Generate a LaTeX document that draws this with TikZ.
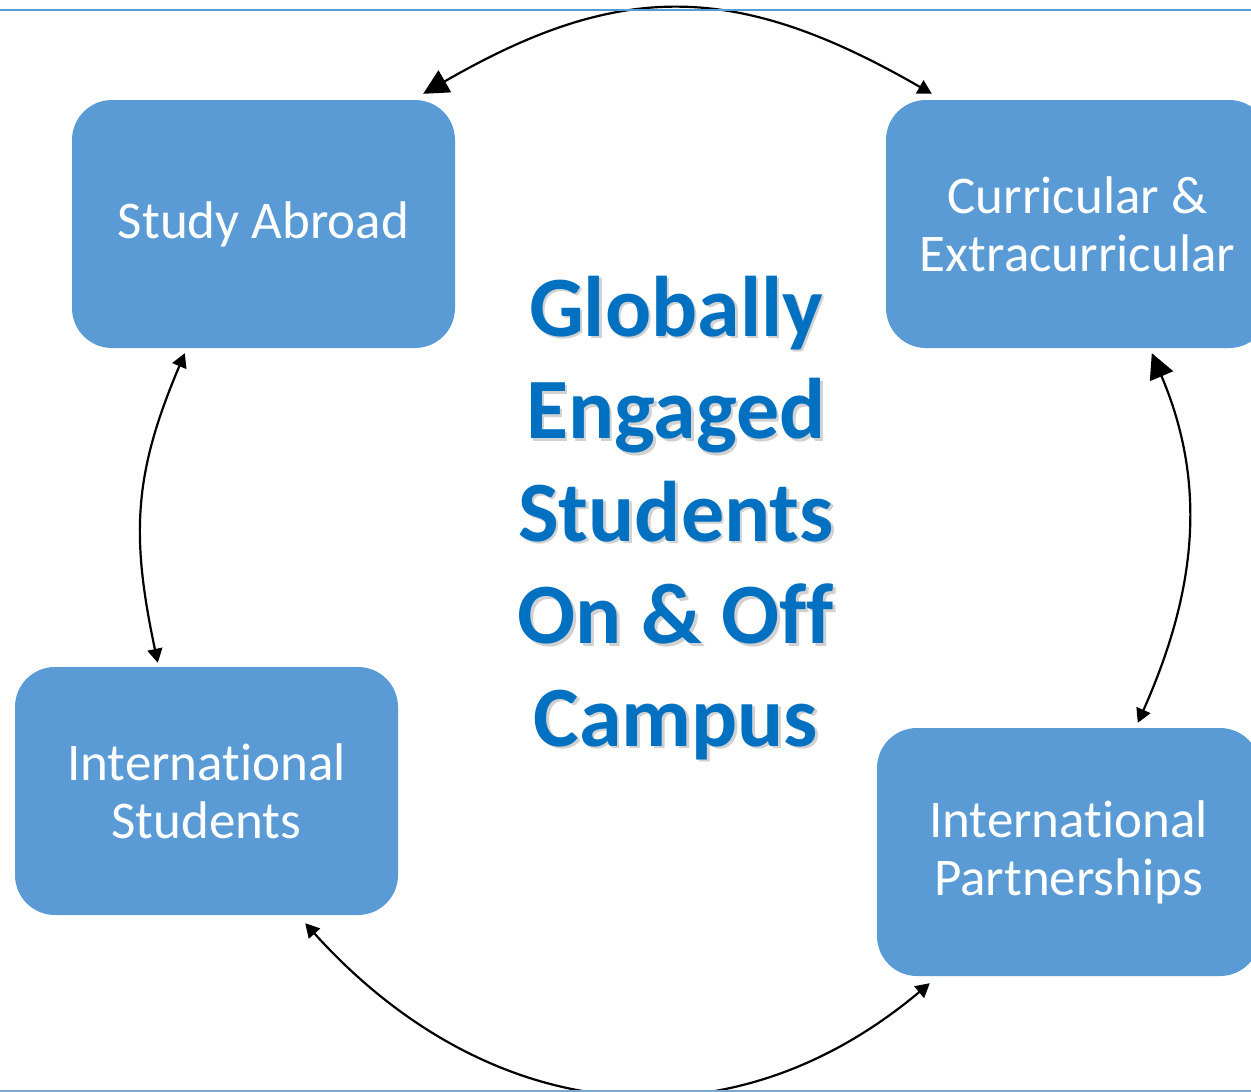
\documentclass[tikz,border=0pt]{standalone}
\usepackage{fontspec}
\setmainfont{Carlito}[Ligatures={NoCommon}]
\usetikzlibrary{arrows.meta}
\definecolor{boxblue}{HTML}{5B9BD5}
\definecolor{titleblue}{HTML}{0070C0}
\definecolor{rulegray}{HTML}{7FA6CC}
\tikzset{
  box/.style={rounded corners=40pt, fill=boxblue, minimum width=383pt, minimum height=248pt,
    text=white, align=center, inner sep=0pt, font=\fontsize{53}{58}\selectfont},
  link/.style={line width=2.2pt, black},
  bigtip/.tip={Triangle[length=25pt, width=25pt]},
  smalltip/.tip={Triangle[length=14pt, width=15pt]},
  titletext/.style={align=center, font=\fontsize{86}{102.5}\selectfont\bfseries},
}
\begin{document}
\begin{tikzpicture}[x=1pt,y=1pt]
\useasboundingbox (0,0) rectangle (1251,-1092);
\clip (0,0) rectangle (1251,-1092);
\fill[white] (0,0) rectangle (1251,-1092);

\node[box] (sa) at (263.5,-224) {Study Abroad};
\node[box] (cx) at (1077.5,-224) {Curricular \&\\Extracurricular};
\node[box] (is) at (206.5,-791) {International\\Students};
\node[box] (ip) at (1068.5,-852) {International\\Partnerships};

\node[titletext, text=black, opacity=0.18] (tshadow) at (678.5,-520.5)
  {Globally\\Engaged\\Students\\On \& Off\\Campus};
\node[titletext, text=titleblue] (title) at (676,-518)
  {Globally\\Engaged\\Students\\On \& Off\\Campus};

\draw[link, bigtip-smalltip]
  ([shift={(-32,6)}]sa.north east) to[out=30, in=150, looseness=1.14]
  ([shift={(46,6)}]cx.north west);
\draw[link, smalltip-smalltip]
  ([shift={(113,-5)}]sa.south west) to[out=247, in=102, looseness=1.08]
  ([shift={(143,4)}]is.north west);
\draw[link, bigtip-smalltip]
  ([shift={(266,-5)}]cx.south west) to[out=293, in=66, looseness=0.99]
  ([shift={(261,5)}]ip.north west);
\draw[link, smalltip-smalltip]
  ([shift={(-93,-8)}]is.south east) to[out=-48, in=220, looseness=1.09]
  ([shift={(53,-7)}]ip.south west);

\draw[line width=2pt, boxblue] (0,-10) coordinate (tl) -- (1251,-10) coordinate (tr);
\draw[line width=1.5pt, rulegray] (0,-1091) coordinate (bl) -- (1251,-1091) coordinate (br);
\end{tikzpicture}
\end{document}
